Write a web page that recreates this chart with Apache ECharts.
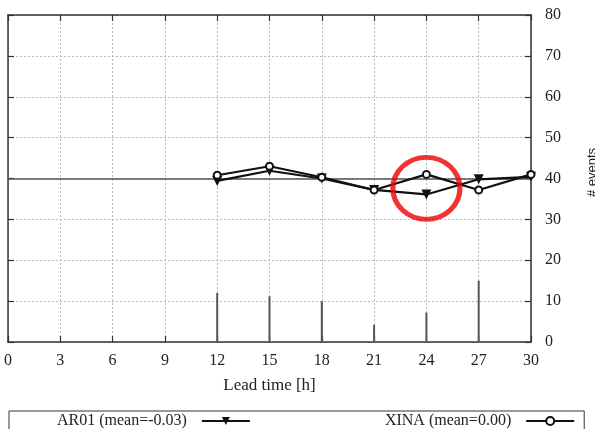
<!DOCTYPE html>
<html>
<head>
<meta charset="utf-8">
<script src="https://cdn.jsdelivr.net/npm/echarts@6/dist/echarts.min.js"></script>
<style>
  html, body { margin: 0; padding: 0; background: #fff; }
  #chart { width: 595px; height: 429px; }
</style>
</head>
<body>
<div id="chart"></div>
<script>
// Lead times [h] and per-model mean values
const leadTimes = [12, 15, 18, 21, 24, 27, 30];
const ar01 = [39.4, 41.9, 40.0, 37.2, 36.1, 39.8, 40.4];
const xina = [40.8, 43.0, 40.3, 37.2, 41.0, 37.2, 41.0];
// Number of events per lead time (impulses)
const eventLeadTimes = [12, 15, 18, 21, 24, 27];
const eventCounts = [12.0, 11.2, 10.0, 4.2, 7.2, 15.0];
// Reference level and highlighted spot
const referenceLevel = 40;
const highlight = [24, 37.6];

const ar01Name = 'AR01 (mean=-0.03)';
const xinaName = 'XINA (mean=0.00)';

const serif = 'Liberation Serif';
const ink = '#222';

const pairs = (xs, ys) => xs.map((x, i) => [x, ys[i]]);

const chart = echarts.init(document.getElementById('chart'));

const baseX = {
  type: 'value', min: 0, max: 30, interval: 3,
  axisLine: { show: true, onZero: false, lineStyle: { color: '#333', width: 1.5 } },
  axisTick: { show: true, inside: true, length: 6, lineStyle: { color: '#333', width: 1.2 } }
};
const baseY = {
  type: 'value', min: 0, max: 80, interval: 10,
  axisLine: { show: true, onZero: false, lineStyle: { color: '#333', width: 1.5 } },
  axisTick: { show: true, inside: true, length: 6, lineStyle: { color: '#333', width: 1.2 } }
};

chart.setOption({
  animation: false,
  grid: { left: 8, right: 64, top: 15, bottom: 87, containLabel: false, outerBoundsMode: 'none' },
  xAxis: [
    Object.assign({}, baseX, {
      position: 'bottom',
      name: 'Lead time [h]', nameLocation: 'middle', nameGap: 35,
      nameTextStyle: { fontFamily: serif, fontSize: 17, color: ink },
      axisLabel: { fontFamily: serif, fontSize: 16, color: ink, margin: 11 },
      splitLine: { show: true, lineStyle: { color: '#bbb', type: [2, 2], width: 1 } }
    }),
    Object.assign({}, baseX, {
      position: 'top',
      axisLabel: { show: false },
      splitLine: { show: false }
    })
  ],
  yAxis: [
    Object.assign({}, baseY, {
      position: 'right',
      name: '# events', nameLocation: 'middle', nameGap: 55, nameRotate: 90,
      nameTextStyle: { fontFamily: 'Liberation Sans', fontSize: 13, color: ink, padding: [0, 0, 0, 12] },
      axisLabel: { fontFamily: serif, fontSize: 16, color: ink, margin: 14 },
      splitLine: { show: true, lineStyle: { color: '#bbb', type: [2, 2], width: 1 } }
    }),
    Object.assign({}, baseY, {
      position: 'left',
      axisLabel: { show: false },
      splitLine: { show: false }
    })
  ],
  legend: {
    data: [ar01Name, xinaName],
    left: 9, top: 411,
    align: 'right',
    padding: [2, 9, 4, 48],
    itemGap: 134,
    itemWidth: 48, itemHeight: 10,
    borderColor: '#333', borderWidth: 1,
    textStyle: { fontFamily: serif, fontSize: 16, color: ink, padding: [0, 10, 0, 0] }
  },
  series: [
    {
      name: 'events', type: 'bar',
      xAxisIndex: 0, yAxisIndex: 0,
      barWidth: 2,
      itemStyle: { color: '#555' },
      data: pairs(eventLeadTimes, eventCounts),
      markLine: {
        silent: true, symbol: 'none', label: { show: false },
        lineStyle: { color: '#555', width: 1.5, type: 'solid' },
        data: [{ yAxis: referenceLevel }]
      }
    },
    {
      name: ar01Name, type: 'line',
      xAxisIndex: 0, yAxisIndex: 0,
      symbol: 'triangle', symbolRotate: 180, symbolSize: 10,
      lineStyle: { color: '#111', width: 2.2 },
      itemStyle: { color: '#111' },
      data: pairs(leadTimes, ar01), z: 5
    },
    {
      name: xinaName, type: 'line',
      xAxisIndex: 0, yAxisIndex: 0,
      symbol: 'circle', symbolSize: 7,
      lineStyle: { color: '#111', width: 2.2 },
      itemStyle: { color: '#fff', borderColor: '#111', borderWidth: 2 },
      data: pairs(leadTimes, xina), z: 6
    },
    {
      name: 'highlight', type: 'scatter',
      xAxisIndex: 0, yAxisIndex: 0,
      silent: true,
      symbol: 'circle', symbolSize: [67, 62],
      itemStyle: { color: 'rgba(0,0,0,0)', borderColor: '#ee0000', borderWidth: 5 },
      data: [highlight], z: 10
    }
  ]
});
</script>
</body>
</html>
